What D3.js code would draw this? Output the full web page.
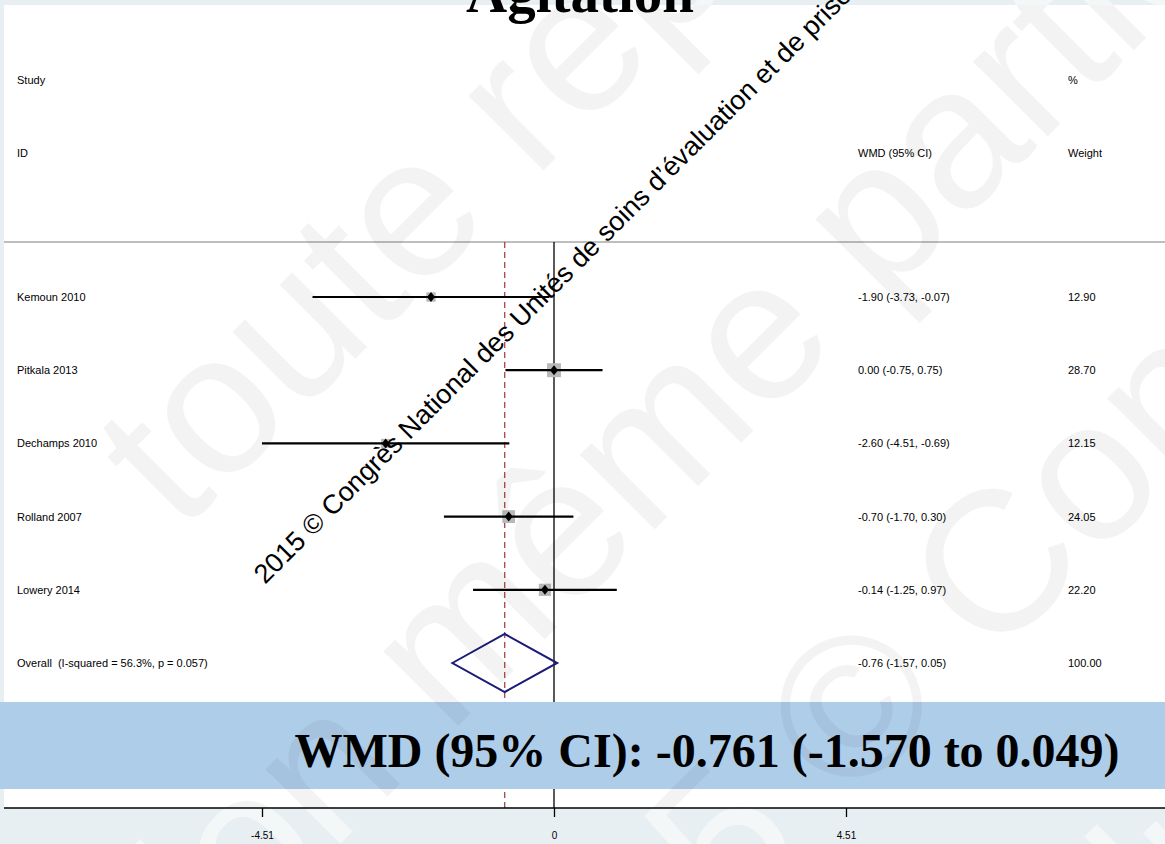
<!DOCTYPE html>
<html>
<head>
<meta charset="utf-8">
<title>Agitation</title>
<script src="https://d3js.org/d3.v7.min.js"></script>
<style>
    body { margin: 0; background: #e8eff2; }
    svg { display: block; }
    .lbl { font-family: Arial, "Liberation Sans", sans-serif; font-size: 11px; fill: #000; white-space: pre; }
</style>
</head>
<body>
<div id="chart"></div>
<script>

    // study data
    var studies = ["Kemoun 2010", "Pitkala 2013", "Dechamps 2010", "Rolland 2007", "Lowery 2014"];
    var effect  = [-1.90, 0.00, -2.60, -0.70, -0.14];
    var ciLow   = [-3.73, -0.75, -4.51, -1.70, -1.25];
    var ciHigh  = [-0.07, 0.75, -0.69, 0.30, 0.97];
    var weights = [12.90, 28.70, 12.15, 24.05, 22.20];

    // pooled estimate
    var overallLabel = "Overall  (I-squared = 56.3%, p = 0.057)";
    var overall = [-0.761, -1.570, 0.049];
    var overallWeight = 100.00;

    var ticks = [-4.51, 0, 4.51];

    var width = 1165, height = 844;
    // plain hyphen for negatives, like Stata
    var loc = d3.formatLocale({ decimal: ".", thousands: ",", grouping: [3], currency: ["", ""], minus: "-" });
    var f2 = loc.format(".2f"), f3 = loc.format(".3f");

    var svg = d3.select("#chart").append("svg")
        .attr("width", width)
        .attr("height", height);

    var x = d3.scaleLinear().domain([-4.51, 4.51]).range([262, 846]);
    var rows = studies.concat([overallLabel]);
    var y = d3.scalePoint().domain(rows).range([297, 663]);

    var axisY = 808, topY = 242;

    // watermark lines (rotated -45deg), start points on baseline
    var marks = [
        { text: "toute reproduction", x: 180, y: 534 },
        { text: "reproduction même partielle", x: -377, y: 1561 },
        { text: "2015 © Congrès National", x: 494, y: 1161 },
        { text: "reproduction même", x: 800, y: 1326 }
    ];

    function drawMarks(g) {
        g.selectAll("text")
            .data(marks)
            .enter().append("text")
            .attr("transform", d => "translate(" + d.x + "," + d.y + ") rotate(-45)")
            .attr("font-family", "Arial, 'Liberation Sans', sans-serif")
            .attr("font-size", "200px")
            .text(d => d.text);
    }

    // light watermark over the grey page
    drawMarks(svg.append("g").attr("fill", "#fff").attr("opacity", 0.5));

    // white plot panel
    svg.append("rect")
        .attr("x", 4).attr("y", 5)
        .attr("width", width - 4).attr("height", axisY - 5)
        .attr("fill", "#fff");

    svg.append("text")
        .attr("x", 580).attr("y", 12)
        .attr("text-anchor", "middle")
        .attr("font-family", "'Times New Roman', 'Liberation Serif', serif")
        .attr("font-weight", "bold")
        .attr("font-size", "57px")
        .text("Agitation");

    // header
    var head = [
        ["Study", 17, 84], ["ID", 17, 157],
        ["WMD (95% CI)", 858, 157],
        ["%", 1068, 84], ["Weight", 1068, 157]
    ];
    svg.selectAll(".head")
        .data(head)
        .enter().append("text")
        .attr("class", "lbl head")
        .attr("x", d => d[1]).attr("y", d => d[2])
        .text(d => d[0]);

    svg.append("line")
        .attr("x1", 4).attr("x2", width)
        .attr("y1", topY).attr("y2", topY)
        .attr("stroke", "#a8a8a8").attr("stroke-width", 1.6);

    // null line and overall line
    svg.append("line")
        .attr("x1", x(0)).attr("x2", x(0))
        .attr("y1", topY).attr("y2", axisY)
        .attr("stroke", "#000").attr("stroke-width", 1.3);

    svg.append("line")
        .attr("x1", x(overall[0])).attr("x2", x(overall[0]))
        .attr("y1", topY).attr("y2", axisY)
        .attr("stroke", "#a3343f").attr("stroke-width", 1.2)
        .attr("stroke-dasharray", "6,4");

    var data = studies.map(function(s, i) {
        return { name: s, est: effect[i], lo: ciLow[i], hi: ciHigh[i], w: weights[i] };
    });

    // weight boxes
    svg.selectAll(".box")
        .data(data)
        .enter().append("rect")
        .attr("class", "box")
        .attr("x", d => x(d.est) - 1.3 * Math.sqrt(d.w))
        .attr("y", d => y(d.name) - 1.3 * Math.sqrt(d.w))
        .attr("width", d => 2.6 * Math.sqrt(d.w))
        .attr("height", d => 2.6 * Math.sqrt(d.w))
        .attr("fill", "#b9b9b9");

    svg.selectAll(".ci")
        .data(data)
        .enter().append("line")
        .attr("class", "ci")
        .attr("x1", d => x(d.lo)).attr("x2", d => x(d.hi))
        .attr("y1", d => y(d.name)).attr("y2", d => y(d.name))
        .attr("stroke", "#000").attr("stroke-width", 2.2);

    svg.selectAll(".pt")
        .data(data)
        .enter().append("path")
        .attr("class", "pt")
        .attr("d", "M0,-5L4,0L0,5L-4,0Z")
        .attr("transform", d => "translate(" + x(d.est) + "," + y(d.name) + ")")
        .attr("fill", "#000");

    // pooled diamond
    var oy = y(overallLabel);
    svg.append("path")
        .attr("d", "M" + x(overall[1]) + "," + oy +
                   "L" + x(overall[0]) + "," + (oy - 29) +
                   "L" + x(overall[2]) + "," + oy +
                   "L" + x(overall[0]) + "," + (oy + 29) + "Z")
        .attr("fill", "none")
        .attr("stroke", "#1b1b78").attr("stroke-width", 2);

    // left labels and right columns
    svg.selectAll(".name")
        .data(rows)
        .enter().append("text")
        .attr("class", "lbl name")
        .attr("x", 17).attr("y", d => y(d) + 4)
        .text(d => d);

    var est = effect.concat([overall[0]]);
    var lo = ciLow.concat([overall[1]]);
    var hi = ciHigh.concat([overall[2]]);
    var wt = weights.concat([overallWeight]);

    svg.selectAll(".ciTxt")
        .data(rows)
        .enter().append("text")
        .attr("class", "lbl ciTxt")
        .attr("x", 858).attr("y", d => y(d) + 4)
        .text((d, i) => f2(est[i]) + " (" + f2(lo[i]) + ", " + f2(hi[i]) + ")");

    svg.selectAll(".wTxt")
        .data(rows)
        .enter().append("text")
        .attr("class", "lbl wTxt")
        .attr("x", 1068).attr("y", d => y(d) + 4)
        .text((d, i) => f2(wt[i]));

    // x axis
    var axisG = svg.append("g")
        .attr("transform", "translate(0," + axisY + ")")
        .call(d3.axisBottom(x)
            .tickValues(ticks)
            .tickSize(9)
            .tickPadding(15)
            .tickFormat(d => d === 0 ? "0" : f2(d)));
    axisG.select(".domain").remove();
    axisG.selectAll("line").attr("stroke", "#000").attr("stroke-width", 1.3);
    axisG.selectAll("text")
        .attr("font-family", "Arial, 'Liberation Sans', sans-serif")
        .attr("font-size", "10px")
        .attr("fill", "#000");

    svg.append("line")
        .attr("x1", 4).attr("x2", width)
        .attr("y1", axisY).attr("y2", axisY)
        .attr("stroke", "#000").attr("stroke-width", 1.6);

    // result banner
    svg.append("rect")
        .attr("x", 0).attr("y", 702)
        .attr("width", width).attr("height", 87)
        .attr("fill", "#aecde9");

    svg.append("text")
        .attr("x", 707).attr("y", 767)
        .attr("text-anchor", "middle")
        .attr("font-family", "'Times New Roman', 'Liberation Serif', serif")
        .attr("font-weight", "bold")
        .attr("font-size", "48px")
        .text("WMD (95% CI): " + f3(overall[0]) + " (" + f3(overall[1]) + " to " + f3(overall[2]) + ")");

    // faint watermark over the panel
    svg.append("clipPath").attr("id", "panelClip")
        .append("rect")
        .attr("x", 4).attr("y", 5)
        .attr("width", width - 4).attr("height", axisY - 5);
    drawMarks(svg.append("g")
        .attr("clip-path", "url(#panelClip)")
        .attr("fill", "#000").attr("opacity", 0.045));

    // copyright line
    svg.append("text")
        .attr("transform", "translate(265,585) rotate(-45)")
        .attr("font-family", "Arial, 'Liberation Sans', sans-serif")
        .attr("font-size", "27px")
        .attr("fill", "#000")
        .text("2015 © Congrès National des Unités de soins d’évaluation et de prise en charge");

</script>
</body>
</html>
